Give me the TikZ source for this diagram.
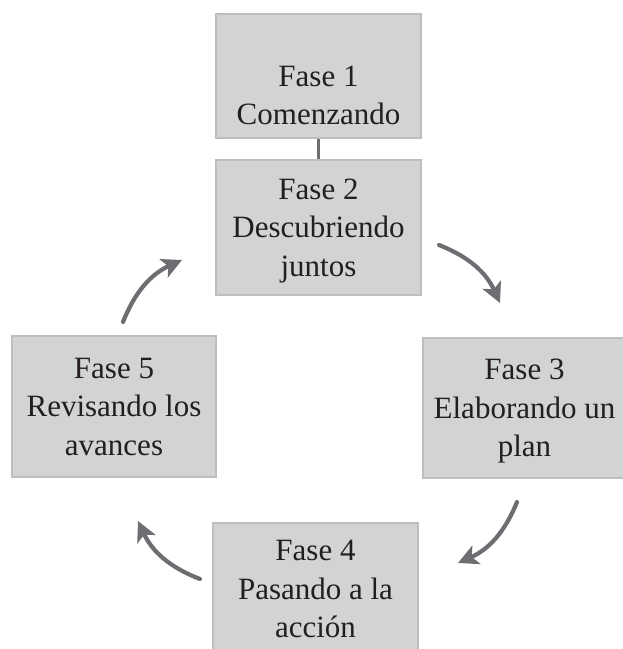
\documentclass[tikz,border=0pt]{standalone}
\usepackage{fontspec}
\setmainfont{Liberation Serif}
\usetikzlibrary{arrows.meta}
\definecolor{boxfill}{HTML}{D1D3D4}
\definecolor{boxline}{HTML}{BCBEC0}
\definecolor{arrowgray}{HTML}{6D6E71}
\definecolor{textdark}{HTML}{231F20}
\tikzset{
  phase/.style={draw=boxline, line width=1.8pt, fill=boxfill, text=textdark,
    minimum width=205pt, align=center, inner sep=0pt,
    font=\fontsize{31}{38.5}\selectfont, text height=97.5pt, text depth=0pt},
  cyc/.style={draw=arrowgray, line width=4.2pt, line cap=round,
    -{Stealth[length=20pt,width=20pt,inset=5pt]}, bend left=22},
  link/.style={draw=arrowgray, line width=2.6pt}
}
\begin{document}
\begin{tikzpicture}[x=1pt,y=1pt]
\useasboundingbox (0,0) rectangle (623,649);
\clip (0,0) rectangle (623,649);
\node[phase, minimum height=124pt] (b1) at (318.5,573) {Fase 1\\Comenzando};
\node[phase, minimum height=135pt] (b2) at (318.5,421.5) {Fase 2\\Descubriendo\\juntos};
\node[phase, minimum width=203pt, minimum height=140pt] (b3) at (524.5,241) {Fase 3\\Elaborando un\\plan};
\node[phase, minimum height=132pt] (b4) at (315.5,60) {Fase 4\\Pasando a la\\acción};
\node[phase, minimum width=204pt, minimum height=141pt] (b5) at (114,242.5) {Fase 5\\Revisando los\\avances};
\draw[link] (b1.south) -- (b2.north);
\coordinate (a1s) at (439,404);
\coordinate (a1e) at (500,346);
\coordinate (a2s) at (517,147);
\coordinate (a2e) at (458,86);
\coordinate (a3s) at (200,70);
\coordinate (a3e) at (138,128);
\coordinate (a4s) at (123,327);
\coordinate (a4e) at (182,389);
\draw[cyc] (a1s) to (a1e);
\draw[cyc] (a2s) to (a2e);
\draw[cyc] (a3s) to (a3e);
\draw[cyc] (a4s) to (a4e);
\end{tikzpicture}
\end{document}
